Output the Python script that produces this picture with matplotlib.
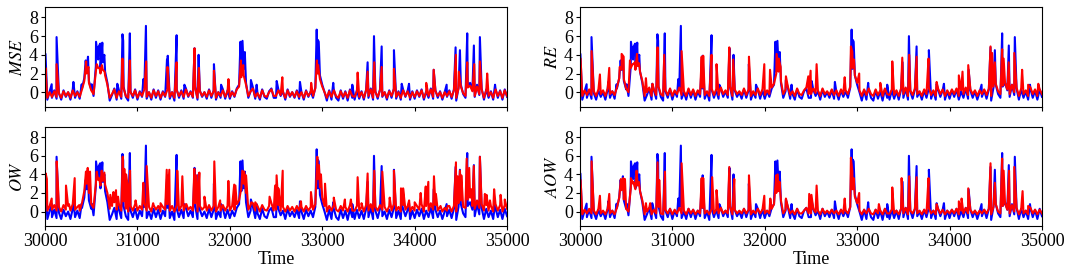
#!/usr/bin/env python3
# coding: utf-8
"""
Anomaly scores vs. ground truth over time, 2x2 panels (MSE / RE / OW / AOW).
Blue = reference signal, red = score of each method.
"""

import numpy as np
import matplotlib
matplotlib.use("Agg")
import matplotlib.pyplot as plt

# -------- 0. data ---------------------------------
# background level, one value every 25 time steps from 30000 to 35000
BASE_T = list(range(30000, 35001, 25))

BLUE_BASE = [
    -0.3, -0.8, 0.1, -0.6, 0.2, -0.7, -0.1, -0.8, 0.2, -0.5, 0.0, -0.8, 0.3, -0.6, 0.1, -0.7, 0.4, 1.5, 2.4, 1.2,
    0.3, -0.4, 2.8, 3.5, 2.5, 3.2, 2.2, 1.0, -0.9, -0.3, 0.4, -0.8, 0.2, -0.7, 0.6, -0.5, -0.9, 0.1, -0.6, 0.3,
    -0.8, 0.1, -0.5, 0.5, -0.7, 0.0, -0.8, 0.3, -0.6, 0.2, -0.8, 0.1, -0.5, 0.4, -0.7, 0.0, -0.9, 0.3, -0.6, 0.2,
    -0.7, 0.4, -0.5, 0.1, -0.6, 0.6, -0.8, 0.2, -0.5, 0.0, -0.7, 0.3, -0.6, 0.2, -0.8, 0.0, -0.6, 0.3, -0.7, 0.2,
    -0.7, 0.1, -0.5, 0.4, 0.8, 2.2, 2.5, 1.0, -0.6, 0.1, 0.5, -0.7, -0.2, -0.8, 0.3, -0.5, -0.7, 0.1, 0.4, -0.6,
    -0.6, 0.3, -0.4, 0.1, -0.8, 0.3, -0.5, 0.0, -0.6, 0.2, -0.7, 0.0, -0.8, 0.2, -0.5, 0.1, -0.6, 0.5, 2.5, 1.8,
    0.8, 0.0, -0.9, 0.2, -0.8, 0.3, -0.6, -0.9, 0.2, -0.7, 0.1, -0.9, 0.3, -0.6, -0.8, 0.2, -0.7, 0.1, -0.8, 0.3,
    -0.6, 0.4, -0.8, 0.1, -0.7, 0.3, -0.5, 0.0, -0.8, 0.2, -0.6, 0.4, -0.7, 0.1, -0.8, 0.3, -0.5, 0.2, -0.8, 0.1,
    -0.7, 0.2, -0.5, 0.3, -0.8, 0.1, -0.6, 0.4, -0.7, 0.2, -0.6, 0.1, -0.8, 0.0, -0.5, 0.2, -0.7, 0.3, -0.9, 0.5,
    0.8, -0.2, -0.6, 0.6, 1.0, 0.2, -0.5, 0.8, -0.3, 0.4, -0.8, 0.3, -0.6, 0.1, -0.8, 0.4, -0.6, 0.2, -0.8, 0.3,
    -0.5,
]
MSE_BASE = [
    -0.2, -0.6, 0.0, -0.5, 0.1, -0.5, -0.1, -0.6, 0.1, -0.4, 0.0, -0.6, 0.2, -0.4, 0.0, -0.5, 0.3, 1.2, 2.0, 1.0,
    0.2, -0.2, 2.2, 2.6, 2.0, 2.4, 1.8, 0.8, -0.6, -0.2, 0.3, -0.6, 0.1, -0.5, 0.4, -0.4, -0.6, 0.0, -0.4, 0.2,
    -0.6, 0.0, -0.4, 0.3, -0.5, 0.0, -0.6, 0.2, -0.4, 0.1, -0.6, 0.0, -0.4, 0.3, -0.5, 0.0, -0.6, 0.2, -0.4, 0.1,
    -0.5, 0.3, -0.4, 0.0, -0.5, 0.4, -0.6, 0.1, -0.4, 0.0, -0.5, 0.2, -0.4, 0.1, -0.6, 0.0, -0.4, 0.2, -0.5, 0.1,
    -0.5, 0.0, -0.4, 0.3, 0.6, 1.6, 1.8, 0.8, -0.4, 0.1, 0.4, -0.5, -0.1, -0.6, 0.2, -0.4, -0.5, 0.0, 0.3, -0.4,
    -0.4, 0.2, -0.3, 0.0, -0.6, 0.2, -0.4, 0.0, -0.5, 0.1, -0.5, 0.0, -0.6, 0.1, -0.4, 0.0, -0.4, 0.4, 2.0, 1.4,
    0.6, 0.0, -0.6, 0.1, -0.5, 0.2, -0.4, -0.6, 0.1, -0.5, 0.0, -0.6, 0.2, -0.4, -0.5, 0.1, -0.5, 0.0, -0.6, 0.2,
    -0.4, 0.3, -0.6, 0.0, -0.5, 0.2, -0.4, 0.0, -0.6, 0.1, -0.4, 0.3, -0.5, 0.0, -0.6, 0.2, -0.4, 0.1, -0.6, 0.0,
    -0.5, 0.1, -0.4, 0.2, -0.6, 0.0, -0.4, 0.3, -0.5, 0.1, -0.4, 0.0, -0.6, 0.0, -0.4, 0.1, -0.5, 0.2, -0.6, 0.4,
    0.6, -0.1, -0.4, 0.5, 0.7, 0.1, -0.4, 0.6, -0.2, 0.3, -0.6, 0.2, -0.4, 0.0, -0.6, 0.3, -0.4, 0.1, -0.6, 0.2,
    -0.4,
]
RE_BASE = [
    0.0, -0.4, 0.2, -0.3, 0.3, -0.3, 0.1, -0.4, 0.3, -0.2, 0.2, -0.4, 0.4, -0.2, 0.1, -0.3, 0.5, 1.5, 2.4, 1.4,
    0.4, 0.0, 2.6, 3.0, 2.4, 2.8, 2.2, 1.2, -0.4, 0.0, 0.5, -0.4, 0.3, -0.3, 0.6, -0.2, -0.4, 0.2, -0.3, 0.4,
    -0.4, 0.2, -0.2, 0.5, -0.3, 0.1, -0.4, 0.4, -0.3, 0.3, -0.4, 0.2, -0.2, 0.5, -0.3, 0.1, -0.4, 0.4, -0.3, 0.3,
    -0.3, 0.5, -0.2, 0.2, -0.3, 0.6, -0.4, 0.3, -0.2, 0.1, -0.3, 0.4, -0.3, 0.3, -0.4, 0.1, -0.3, 0.4, -0.3, 0.3,
    -0.3, 0.2, -0.2, 0.5, 0.9, 2.0, 2.2, 1.2, -0.2, 0.3, 0.6, -0.3, 0.1, -0.4, 0.4, -0.2, -0.3, 0.2, 0.5, -0.2,
    -0.2, 0.4, -0.1, 0.2, -0.4, 0.4, -0.2, 0.1, -0.3, 0.3, -0.3, 0.2, -0.4, 0.3, -0.2, 0.2, -0.2, 0.6, 2.6, 1.8,
    1.0, 0.2, -0.4, 0.3, -0.3, 0.4, -0.2, -0.4, 0.3, -0.3, 0.2, -0.4, 0.4, -0.2, -0.3, 0.3, -0.3, 0.2, -0.4, 0.4,
    -0.2, 0.5, -0.4, 0.2, -0.3, 0.4, -0.2, 0.1, -0.4, 0.3, -0.2, 0.5, -0.3, 0.2, -0.4, 0.4, -0.2, 0.3, -0.4, 0.2,
    -0.3, 0.3, -0.2, 0.4, -0.4, 0.2, -0.2, 0.5, -0.3, 0.3, -0.2, 0.2, -0.4, 0.2, -0.2, 0.3, -0.3, 0.4, -0.4, 0.6,
    0.9, 0.1, -0.2, 0.7, 1.0, 0.3, -0.2, 0.8, 0.0, 0.5, -0.4, 0.4, -0.2, 0.2, -0.4, 0.5, -0.2, 0.3, -0.4, 0.3,
    -0.2,
]
OW_BASE = [
    0.5, 0.1, 0.6, 0.2, 0.7, 0.1, 0.5, 0.0, 0.7, 0.2, 0.6, 0.1, 0.8, 0.2, 0.5, 0.1, 0.9, 2.2, 3.0, 2.0,
    0.8, 0.4, 3.0, 3.4, 2.8, 3.3, 2.9, 2.0, 0.3, 0.6, 1.0, 0.2, 0.8, 0.1, 1.1, 0.3, 0.0, 0.6, 0.1, 0.8,
    0.1, 0.6, 0.2, 0.9, 0.1, 0.5, 0.0, 0.7, 0.2, 0.6, 0.0, 0.5, 0.2, 0.8, 0.1, 0.6, 0.0, 0.7, 0.1, 0.6,
    0.1, 0.8, 0.2, 0.5, 0.1, 0.9, 0.0, 0.6, 0.2, 0.5, 0.1, 0.7, 0.1, 0.6, 0.0, 0.5, 0.1, 0.7, 0.1, 0.6,
    0.1, 0.6, 0.2, 0.8, 1.2, 2.6, 3.0, 2.0, 0.2, 0.7, 0.9, 0.1, 0.6, 0.0, 0.7, 0.2, 0.1, 0.6, 0.9, 0.1,
    0.2, 0.7, 0.1, 0.5, 0.0, 0.6, 0.1, 0.5, 0.0, 0.6, 0.1, 0.5, 0.0, 0.6, 0.1, 0.5, 0.2, 0.8, 3.5, 2.6,
    1.5, 0.6, 0.0, 0.6, 0.1, 0.7, 0.2, 0.0, 0.6, 0.1, 0.5, 0.0, 0.7, 0.1, 0.1, 0.6, 0.1, 0.5, 0.0, 0.7,
    0.1, 0.8, 0.0, 0.5, 0.1, 0.7, 0.2, 0.5, 0.0, 0.6, 0.1, 0.8, 0.1, 0.5, 0.0, 0.7, 0.2, 0.6, 0.0, 0.5,
    0.1, 0.6, 0.2, 0.8, 0.0, 0.6, 0.1, 0.9, 0.2, 0.7, 0.1, 0.5, 0.0, 0.4, 0.1, 0.6, 0.0, 0.6, 0.0, 0.9,
    1.2, 0.5, 0.4, 1.3, 1.5, 0.6, 0.3, 1.2, 0.4, 0.8, 0.1, 0.7, 0.1, 0.6, 0.0, 0.8, 0.1, 0.7, 0.0, 0.7,
    0.3,
]
AOW_BASE = [
    0.0, -0.3, 0.2, -0.2, 0.3, -0.2, 0.1, -0.3, 0.3, -0.2, 0.1, -0.3, 0.3, -0.2, 0.1, -0.3, 0.4, 1.5, 2.3, 1.3,
    0.3, 0.0, 2.5, 3.0, 2.4, 2.8, 2.2, 1.2, -0.3, 0.0, 0.4, -0.3, 0.2, -0.2, 0.5, -0.2, -0.3, 0.2, -0.2, 0.3,
    -0.3, 0.2, -0.2, 0.4, -0.2, 0.1, -0.3, 0.3, -0.2, 0.2, -0.3, 0.1, -0.2, 0.4, -0.2, 0.1, -0.3, 0.3, -0.2, 0.2,
    -0.2, 0.4, -0.2, 0.1, -0.2, 0.5, -0.3, 0.2, -0.2, 0.1, -0.2, 0.3, -0.2, 0.2, -0.3, 0.1, -0.2, 0.3, -0.2, 0.2,
    -0.2, 0.1, -0.2, 0.3, 0.8, 2.0, 2.2, 1.2, -0.2, 0.2, 0.5, -0.2, 0.1, -0.3, 0.3, -0.2, -0.2, 0.1, 0.4, -0.2,
    -0.2, 0.3, -0.1, 0.1, -0.3, 0.3, -0.2, 0.1, -0.2, 0.2, -0.2, 0.1, -0.3, 0.2, -0.2, 0.1, -0.2, 0.5, 2.4, 1.6,
    0.9, 0.1, -0.3, 0.2, -0.2, 0.3, -0.2, -0.3, 0.2, -0.2, 0.1, -0.3, 0.3, -0.2, -0.2, 0.2, -0.2, 0.1, -0.3, 0.3,
    -0.2, 0.4, -0.3, 0.1, -0.2, 0.3, -0.2, 0.1, -0.3, 0.2, -0.2, 0.4, -0.2, 0.1, -0.3, 0.3, -0.2, 0.2, -0.3, 0.1,
    -0.2, 0.2, -0.2, 0.3, -0.3, 0.1, -0.2, 0.4, -0.2, 0.2, -0.2, 0.1, -0.3, 0.1, -0.2, 0.2, -0.2, 0.3, -0.3, 0.5,
    0.8, 0.0, -0.2, 0.6, 0.9, 0.2, -0.2, 0.7, 0.0, 0.4, -0.3, 0.3, -0.2, 0.1, -0.3, 0.4, -0.2, 0.2, -0.3, 0.2,
    -0.2,
]

# peaks (time, value)
BLUE_PEAKS = [
    (30005, 4.1), (30072, 0.85), (30125, 5.9), (30307, 1.1), (30397, 0.85),
    (30440, 3.4), (30465, 3.8), (30505, 0.85), (30552, 5.4), (30577, 4.8),
    (30597, 5.2), (30620, 5.3), (30642, 4.0), (30782, 0.9), (30838, 6.2),
    (30846, 5.5), (30918, 6.3), (31064, 1.4), (31092, 7.1), (31320, 3.5),
    (31328, 3.9), (31424, 6.1), (31508, 0.8), (31618, 4.7), (31662, 4.0),
    (31828, 3.0), (31905, 0.8), (32115, 5.4), (32137, 5.5), (32162, 4.3),
    (32228, 1.3), (32290, 0.8), (32507, 1.2), (32759, 1.1), (32940, 6.7),
    (32952, 5.6), (32962, 5.4), (33119, 1.0), (33325, 0.8), (33491, 3.2),
    (33560, 6.0), (33643, 4.9), (33776, 4.5), (33860, 0.9), (33939, 0.9),
    (34206, 2.4), (34346, 0.8), (34443, 4.8), (34490, 4.5), (34569, 6.3),
    (34641, 5.0), (34706, 5.9), (34870, 0.8),
]
MSE_PEAKS = [
    (30005, 2.6), (30125, 3.0), (30445, 3.3), (30470, 2.7), (30560, 3.0),
    (30590, 2.6), (30615, 2.9), (30645, 2.2), (30838, 3.6), (30918, 3.4),
    (31095, 3.3), (31325, 2.7), (31424, 3.2), (31618, 4.7), (31665, 2.6),
    (31828, 2.3), (31985, 1.4), (32120, 3.4), (32145, 2.9), (32568, 1.6),
    (32880, 1.0), (32942, 3.4), (32955, 2.9), (33383, 2.1), (33491, 2.2),
    (33563, 3.2), (33643, 2.7), (33776, 2.5), (34125, 1.0), (34206, 2.4),
    (34446, 4.0), (34478, 2.2), (34569, 3.2), (34645, 3.0), (34706, 3.3),
    (34785, 2.0),
]
RE_PEAKS = [
    (30007, 3.6), (30126, 4.4), (30216, 1.9), (30317, 2.6), (30430, 2.7),
    (30451, 4.1), (30473, 3.8), (30541, 3.4), (30570, 3.0), (30595, 3.2),
    (30617, 4.1), (30640, 3.1), (30714, 1.5), (30785, 0.9), (30840, 4.8),
    (30912, 4.0), (31100, 4.4), (31317, 3.8), (31334, 3.9), (31424, 4.0),
    (31478, 3.0), (31616, 4.8), (31659, 3.5), (31829, 3.8), (31995, 3.0),
    (32057, 2.4), (32128, 4.1), (32150, 3.6), (32172, 2.7), (32229, 1.7),
    (32471, 1.7), (32496, 2.3), (32561, 3.0), (32865, 1.6), (32932, 4.9),
    (32948, 4.3), (32965, 3.5), (33022, 2.0), (33250, 1.0), (33380, 3.3),
    (33488, 3.7), (33563, 4.0), (33643, 3.8), (33772, 3.6), (33860, 1.1),
    (34100, 1.8), (34140, 2.2), (34202, 2.9), (34443, 4.9), (34460, 4.2),
    (34490, 3.2), (34569, 4.6), (34585, 3.6), (34640, 3.2), (34700, 4.2),
    (34785, 2.4), (34850, 0.8), (34960, 0.9),
]
OW_PEAKS = [
    (30007, 4.1), (30020, 3.5), (30072, 1.4), (30126, 5.4), (30140, 2.8),
    (30227, 2.8), (30260, 0.8), (30321, 3.6), (30370, 0.7), (30443, 4.3),
    (30462, 4.7), (30487, 4.3), (30559, 4.3), (30585, 3.6), (30613, 4.4),
    (30642, 4.2), (30707, 1.8), (30740, 2.1), (30768, 2.3), (30790, 1.6),
    (30841, 5.9), (30858, 4.6), (30877, 4.0), (30893, 2.8), (30920, 4.4),
    (30980, 1.2), (31064, 3.1), (31100, 4.9), (31170, 0.9), (31250, 0.9),
    (31317, 4.5), (31345, 4.5), (31431, 4.4), (31486, 3.8), (31530, 0.8),
    (31616, 4.6), (31640, 3.9), (31670, 4.2), (31725, 1.6), (31832, 5.4),
    (31895, 1.2), (31984, 3.3), (32047, 2.9), (32060, 2.8), (32135, 4.4),
    (32155, 4.3), (32175, 3.9), (32232, 1.0), (32275, 1.0), (32430, 1.6),
    (32490, 2.8), (32506, 3.9), (32525, 2.5), (32572, 4.4), (32770, 1.1),
    (32878, 2.1), (32947, 5.9), (32965, 5.0), (32986, 4.0), (33030, 3.0),
    (33125, 1.5), (33245, 1.3), (33310, 1.3), (33383, 3.7), (33425, 0.9),
    (33491, 4.1), (33563, 4.4), (33650, 4.3), (33730, 1.5), (33776, 4.4),
    (33852, 2.5), (33875, 2.5), (33940, 1.2), (34000, 1.0), (34065, 2.0),
    (34120, 2.7), (34148, 3.2), (34209, 3.8), (34230, 1.9), (34280, 0.6),
    (34355, 0.6), (34447, 5.3), (34465, 3.8), (34490, 4.4), (34505, 3.9),
    (34563, 5.7), (34590, 4.7), (34615, 2.4), (34640, 4.9), (34706, 5.9),
    (34760, 1.9), (34778, 1.8), (34815, 1.2), (34860, 2.4), (34930, 1.8),
    (34975, 1.3),
]
AOW_PEAKS = [
    (30007, 3.4), (30126, 5.4), (30216, 1.7), (30317, 1.9), (30443, 3.5),
    (30469, 3.6), (30487, 3.5), (30552, 3.6), (30577, 3.2), (30613, 4.4),
    (30638, 3.2), (30714, 0.9), (30760, 0.9), (30840, 5.3), (30858, 3.4),
    (30920, 4.3), (31100, 5.2), (31317, 3.6), (31334, 3.6), (31431, 3.7),
    (31478, 2.3), (31616, 4.8), (31670, 3.5), (31829, 3.9), (31995, 1.7),
    (32060, 1.4), (32124, 3.9), (32140, 4.0), (32160, 3.2), (32229, 1.4),
    (32481, 1.9), (32505, 1.8), (32561, 2.8), (32865, 1.4), (32932, 5.8),
    (32948, 4.3), (32962, 3.6), (33022, 2.0), (33235, 0.8), (33380, 2.6),
    (33481, 3.6), (33563, 3.8), (33643, 3.7), (33772, 3.6), (33860, 0.8),
    (34100, 1.1), (34130, 1.4), (34202, 2.5), (34443, 5.2), (34490, 3.1),
    (34569, 5.7), (34585, 4.4), (34644, 4.4), (34700, 4.8), (34790, 2.2),
    (34850, 0.6),
]

PANELS = [
    ("MSE", MSE_BASE, MSE_PEAKS),
    ("RE", RE_BASE, RE_PEAKS),
    ("OW", OW_BASE, OW_PEAKS),
    ("AOW", AOW_BASE, AOW_PEAKS),
]
XTICKS = [30000, 31000, 32000, 33000, 34000, 35000]
YTICKS = [0, 2, 4, 6, 8]


def merge(base, peaks):
    """background + peaks -> one time-ordered series"""
    t = np.concatenate([BASE_T, [p[0] for p in peaks]])
    v = np.concatenate([base, [p[1] for p in peaks]])
    order = np.argsort(t, kind="stable")
    return t[order], v[order]


# -------- 1. style ----------
plt.rcParams["font.family"] = ["Liberation Serif", "DejaVu Serif"]
plt.rcParams["mathtext.fontset"] = "stix"
plt.rcParams["font.size"] = 13

# -------- 2. draw ----------
fig = plt.figure(figsize=(10.72, 2.8), dpi=100)
pos = [
    [0.042, 0.619, 0.431, 0.357],
    [0.541, 0.619, 0.431, 0.357],
    [0.042, 0.193, 0.431, 0.355],
    [0.541, 0.193, 0.431, 0.355],
]
t_blue, v_blue = merge(BLUE_BASE, BLUE_PEAKS)

for i, (name, base, peaks) in enumerate(PANELS):
    ax = fig.add_axes(pos[i])
    t_red, v_red = merge(base, peaks)
    ax.plot(t_blue, v_blue, color="blue", lw=1.5)
    ax.plot(t_red, v_red, color="red", lw=1.5)

    ax.set_xlim(30000, 35000)
    ax.set_ylim(-1.55, 9.15)
    ax.set_yticks(YTICKS)
    ax.set_xticks(XTICKS)
    ax.set_ylabel(f"${name}$", labelpad=2)
    if i < 2:
        ax.set_xticklabels([])
    else:
        ax.set_xlabel("Time", labelpad=1)
    ax.tick_params(length=3, pad=2)

fig.savefig("out.png", dpi=100)
